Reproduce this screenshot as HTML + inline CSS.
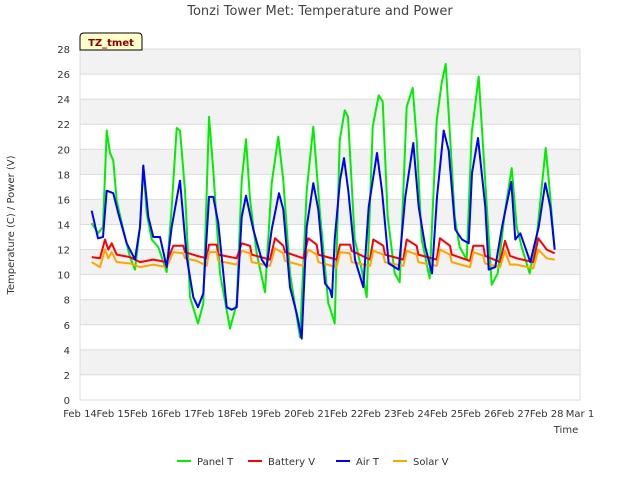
<!DOCTYPE html>
<html><head><meta charset="utf-8"><style>
body{margin:0;background:#fff;}
svg{display:block;font-family:"DejaVu Sans","Liberation Sans",sans-serif;}
</style></head><body>
<svg id="chart" width="640" height="480">
<text x="320" y="15" text-anchor="middle" font-size="13" fill="#444">Tonzi Tower Met: Temperature and Power</text>
<g id="bands"></g><g id="grid"></g>
<rect x="80" y="49" width="500" height="351" fill="none" stroke="#ddd"/>
<g id="ticks" font-size="10" fill="#333"></g>
<g id="series"></g>
<text x="14" y="225" transform="rotate(-90 14 225)" text-anchor="middle" font-size="10" fill="#333">Temperature (C) / Power (V)</text>
<text x="566" y="433" text-anchor="middle" font-size="10" fill="#333">Time</text>
<g>
<path d="M80,50 L80,37 Q80,33 84,33 L138,33 Q142,33 142,37 L142,50 Z" fill="#ffffcc" stroke="#000"/>
<text x="111" y="46" text-anchor="middle" font-size="10" font-weight="bold" fill="#8b0000">TZ_tmet</text></g>
<g id="legend" font-size="10" fill="#333"></g>
</svg>
<script>
const yTicks=[0,2,4,6,8,10,12,14,16,18,20,22,24,26,28];
const xTickLabels=["Feb 14","Feb 15","Feb 16","Feb 17","Feb 18","Feb 19","Feb 20","Feb 21","Feb 22","Feb 23","Feb 24","Feb 25","Feb 26","Feb 27","Feb 28","Mar 1"];
const seriesNames=["Panel T","Battery V","Air T","Solar V"];
const seriesColors=["#00ee00","#ff0000","#0000ff","#ffa500"];
const panelDays=[0.35,0.54,0.69,0.8,0.9,1.0,1.1,1.3,1.5,1.65,1.8,1.9,2.0,2.15,2.35,2.6,2.75,2.9,3.0,3.15,3.3,3.54,3.7,3.87,4.0,4.2,4.5,4.7,4.85,4.98,5.1,5.3,5.55,5.75,5.95,6.1,6.3,6.6,6.8,7.0,7.2,7.45,7.49,7.64,7.79,7.94,8.04,8.24,8.45,8.6,8.78,8.96,9.08,9.23,9.44,9.59,9.8,9.98,10.1,10.25,10.49,10.7,10.85,10.97,11.09,11.24,11.39,11.6,11.75,11.96,12.14,12.35,12.53,12.74,12.95,13.1,13.25,13.49,13.7,13.97,14.09,14.24];
const panelVals=[14.1,13.3,13.8,21.5,19.7,19.1,15.9,13.6,11.4,10.4,13.8,18.7,14.9,12.8,12.2,10.2,15.4,21.7,21.5,16.7,8.2,6.1,7.7,22.6,18.3,10.1,5.7,7.7,17.5,20.8,16,11.7,8.6,17.3,21,17.5,10.1,5,16.7,21.8,14.9,7.7,7.4,6.1,20.7,23.1,22.6,12.8,10.4,8.2,21.8,24.3,23.8,14.6,10.1,9.4,23.4,24.9,20.7,12.8,9.7,22.3,25.3,26.8,21.5,14.6,12.2,11.2,21.3,25.8,18.1,9.2,10.1,14.9,18.5,13.8,12.2,10.1,13,20.1,16.7,12];
const airDays=[0.35,0.54,0.69,0.8,1.0,1.15,1.4,1.65,1.8,1.9,2.05,2.2,2.4,2.6,2.75,3.0,3.2,3.4,3.54,3.7,3.87,4.0,4.15,4.4,4.55,4.7,4.85,4.98,5.2,5.45,5.6,5.75,5.97,6.1,6.3,6.5,6.65,6.8,7.0,7.15,7.35,7.5,7.56,7.64,7.8,7.92,8.05,8.25,8.5,8.66,8.91,9.06,9.26,9.56,9.76,10.0,10.16,10.36,10.56,10.71,10.91,11.06,11.26,11.46,11.66,11.76,11.94,12.16,12.26,12.46,12.66,12.94,13.06,13.21,13.51,13.76,13.96,14.11,14.24];
const airVals=[15.1,12.9,13,16.7,16.5,14.9,12.5,11.2,13.8,18.7,14.6,13,13,10.6,13.8,17.5,11.4,8.2,7.4,8.5,16.2,16.2,14.1,7.4,7.2,7.4,14.6,16.3,13.6,11.2,10.6,13.6,16.5,15.2,9,6.9,4.9,13.8,17.3,15.2,9.3,8.8,8.2,12.8,17.5,19.3,16.7,11.2,9,15.4,19.7,16.7,10.9,10.4,16.2,20.5,15.4,12.2,10.1,16.2,21.5,19.9,13.6,12.8,12.5,18.1,20.9,15.4,10.4,10.6,13.8,17.4,12.8,13.3,11,13.8,17.3,15.4,12];
const batDays=[0.35,0.6,0.75,0.85,0.95,1.1,1.5,1.8,2.2,2.6,2.8,3.1,3.15,3.5,3.8,3.87,4.1,4.15,4.7,4.85,5.1,5.15,5.7,5.85,6.1,6.15,6.7,6.85,7.1,7.15,7.7,7.8,8.1,8.15,8.7,8.8,9.1,9.15,9.7,9.8,10.1,10.15,10.7,10.8,11.1,11.15,11.7,11.8,12.1,12.15,12.6,12.75,12.9,13.1,13.6,13.75,14.0,14.24];
const batVals=[11.4,11.3,12.8,12.0,12.5,11.6,11.4,11.0,11.2,11.0,12.3,12.3,11.8,11.5,11.3,12.4,12.4,11.6,11.3,12.5,12.3,11.6,11.2,12.9,12.3,11.8,11.3,12.9,12.4,11.6,11.2,12.4,12.4,11.9,11.2,12.8,12.3,11.6,11.2,12.8,12.3,11.6,11.2,12.9,12.3,11.6,11.1,12.3,12.3,11.5,11.0,12.7,11.5,11.3,11.0,12.9,12.0,11.7];
const solDays=[0.35,0.6,0.75,0.85,0.95,1.1,1.5,1.8,2.2,2.6,2.8,3.1,3.15,3.5,3.8,3.87,4.1,4.15,4.7,4.85,5.1,5.15,5.7,5.85,6.1,6.15,6.7,6.85,7.1,7.15,7.7,7.8,8.1,8.15,8.7,8.8,9.1,9.15,9.7,9.8,10.1,10.15,10.7,10.8,11.1,11.15,11.7,11.8,12.1,12.15,12.6,12.75,12.9,13.1,13.6,13.75,14.0,14.24];
const solVals=[11.0,10.6,12.0,11.3,11.8,11.0,10.9,10.6,10.8,10.6,11.8,11.7,11.3,11.1,10.7,11.8,11.8,11.1,10.8,11.9,11.7,11.0,10.7,12.1,11.7,11.1,10.7,12.0,11.6,11.0,10.6,11.8,11.7,11.0,10.7,11.9,11.6,11.0,10.7,11.9,11.6,11.0,10.7,12.0,11.6,11.0,10.6,11.8,11.5,10.9,10.6,11.9,10.8,10.8,10.5,12.0,11.3,11.2];

const NS="http://www.w3.org/2000/svg";
const X0=80,X1=580,Y0=400,Y1=49;
const xs=d=>X0+d*(X1-X0)/15;
const ys=v=>Y0-v*(Y0-Y1)/28;
function mk(tag,attrs,parent){const e=document.createElementNS(NS,tag);for(const k in attrs)e.setAttribute(k,attrs[k]);parent.appendChild(e);return e;}
const bands=document.getElementById('bands'),grid=document.getElementById('grid'),ticks=document.getElementById('ticks');
for(let i=0;i<yTicks.length-1;i++){
  if(i%2===1){const r=mk('rect',{x:X0,y:ys(yTicks[i+1]),width:X1-X0,height:ys(yTicks[i])-ys(yTicks[i+1]),fill:'#f2f2f2'},bands);
  
  }
}
yTicks.forEach(v=>{
  const l=mk('line',{x1:X0,x2:X1,y1:ys(v),y2:ys(v),stroke:'#dcdcdc'},grid);
  
  
  const t=mk('text',{x:X0-10,y:ys(v)+4,'text-anchor':'end'},ticks);t.textContent=v;
  
  
});
xTickLabels.forEach((s,i)=>{
  const t=mk('text',{x:xs(i),y:Y0+17,'text-anchor':'middle'},ticks);t.textContent=s;
  
  
});
const ser=document.getElementById('series');
function line(days,vals,color,name){
  const pts=days.map((d,i)=>xs(d).toFixed(1)+','+ys(vals[i]).toFixed(1)).join(' ');
  const p=mk('polyline',{points:pts,fill:'none',stroke:color,'stroke-width':2,'stroke-linejoin':'round'},ser);
  
  
}
line(panelDays,panelVals,seriesColors[0],'panel-t-line');
line(batDays,batVals,seriesColors[1],'battery-v-line');
line(solDays,solVals,seriesColors[3],'solar-v-line');
line(airDays,airVals,seriesColors[2],'air-t-line');
const lg=document.getElementById('legend');
const lx=[177,248,336,393];
seriesNames.forEach((n,i)=>{
  const g=mk('g',{},lg);
  
  
  mk('line',{x1:lx[i],x2:lx[i]+14,y1:461,y2:461,stroke:seriesColors[i],'stroke-width':2},g);
  const t=mk('text',{x:lx[i]+20,y:465},g);t.textContent=n;
});
</script>
</body></html>
